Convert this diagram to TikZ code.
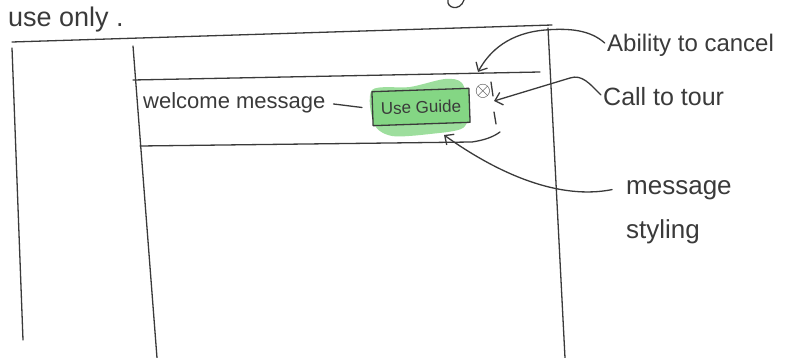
\documentclass[tikz,border=0pt]{standalone}
\usepackage{fontspec}
\setmainfont{Liberation Sans}
\usetikzlibrary{arrows.meta}

\definecolor{pencil}{RGB}{58,58,58}
\definecolor{glow}{RGB}{132,214,132}

\tikzset{
  sketch/.style={draw=pencil,line width=1.3pt,line cap=round,line join=round},
  hand/.style={text=pencil,inner sep=0pt},
  note/.style={sketch,shorten <=3pt,-{Straight Barb[length=7pt,width=13pt,line width=1.3pt]}},
}

\begin{document}
\begin{tikzpicture}[x=1pt,y=-1pt]
  \useasboundingbox (0,0) rectangle (802,358);
  % outer frame and columns
  \draw[sketch] (12,42) -- (300,33) -- (552,25);
  \draw[sketch] (12,48) -- (23,340);
  \draw[sketch] (133,46) -- (157,358);
  \draw[sketch] (548,28) -- (565,358);
  % cut-off line above
  \draw[sketch] (448,0) .. controls (446,8) and (460,12) .. (464,0);
  \node[hand,font=\fontsize{27}{30}\selectfont,anchor=base west] (useonly) at (8,27) {use only .};
  % message bar
  \draw[sketch] (133,80) -- (540,72);
  \draw[sketch] (140,146) -- (472,142) .. controls (485,140) and (493,137) .. (500,132);
  \fill[glow,fill opacity=0.8] plot[smooth cycle] coordinates {(372,90) (410,87) (445,79) (462,83) (469,108) (463,128) (430,134) (392,136) (374,124)};
  \node[hand,font=\fontsize{22}{24}\selectfont,anchor=west] (welcome) at (143,103) {welcome message};
  \node[sketch,fill=glow,rotate=2,minimum width=97pt,minimum height=34pt,font=\fontsize{17}{19}\selectfont,text=pencil] (guide) at (421,107) {Use Guide};
  \draw[sketch,shorten <=8pt,shorten >=10pt] (welcome.east) -- (guide.west);
  \node[text=pencil,font=\fontsize{20}{20}\selectfont,inner sep=0pt] (close) at (483,91) {$\otimes$};
  \draw[sketch] (491,82) -- (493,96);
  \draw[sketch] (494,112) -- (496,124);
  % notes on the right
  \node[hand,font=\fontsize{24}{26}\selectfont,anchor=west] (cancel) at (607,45) {Ability to cancel};
  \node[hand,font=\fontsize{25}{27}\selectfont,anchor=west] (tour) at (603,97) {Call to tour};
  \node[hand,font=\fontsize{26}{44}\selectfont,align=left,anchor=north west] (styling) at (626,180) {message\\styling};
  \coordinate (cancelpt) at (478,72);
  \coordinate (tourpt) at (494,101);
  \coordinate (stylept) at (444,135);
  \draw[note] (cancel.west) .. controls (590,30) and (570,28) .. (545,30) .. controls (510,33) and (490,50) .. (cancelpt);
  \draw[note] (tour.west) .. controls (590,84) and (582,74) .. (570,78) -- (tourpt);
  \draw[note] (615,189) .. controls (560,200) and (500,175) .. (stylept);
\end{tikzpicture}
\end{document}
